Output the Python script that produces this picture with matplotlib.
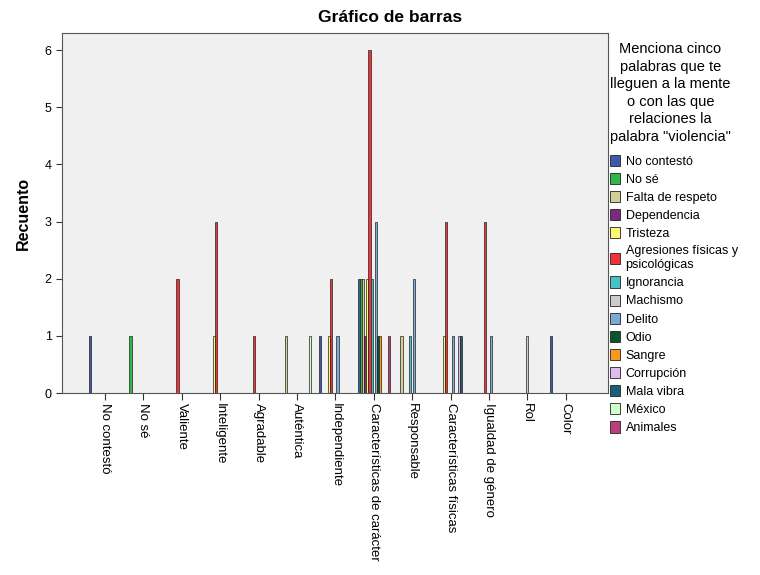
import numpy as np
import matplotlib
matplotlib.use('Agg')
import matplotlib.pyplot as plt
from matplotlib.patches import Patch

plt.rcParams['font.family'] = ['Liberation Sans', 'DejaVu Sans']

# categorias del eje X
categorias = ['No contestó', 'No sé', 'Valiente', 'Inteligente', 'Agradable', 'Auténtica',
              'Independiente', 'Características de carácter', 'Responsable',
              'Características físicas', 'Igualdad de género', 'Rol', 'Color']

# recuentos por serie (una lista por respuesta, en el orden de las categorias)
no_contesto   = [1, 0, 0, 0, 0, 0, 1, 2, 0, 0, 0, 0, 1]
no_se         = [0, 1, 0, 0, 0, 0, 0, 2, 0, 0, 0, 0, 0]
falta_respeto = [0, 0, 0, 0, 0, 1, 0, 2, 1, 0, 0, 0, 0]
dependencia   = [0, 0, 0, 0, 0, 0, 0, 1, 0, 0, 0, 0, 0]
tristeza      = [0, 0, 0, 1, 0, 0, 1, 2, 0, 1, 0, 0, 0]
agresiones    = [0, 0, 2, 3, 1, 0, 2, 6, 0, 3, 3, 0, 0]
ignorancia    = [0, 0, 0, 0, 0, 0, 0, 2, 1, 0, 0, 0, 0]
machismo      = [0, 0, 0, 0, 0, 0, 0, 0, 0, 0, 0, 1, 0]
delito        = [0, 0, 0, 0, 0, 0, 1, 3, 2, 1, 1, 0, 0]
odio          = [0, 0, 0, 0, 0, 0, 0, 1, 0, 0, 0, 0, 0]
sangre        = [0, 0, 0, 0, 0, 0, 0, 1, 0, 0, 0, 0, 0]
corrupcion    = [0, 0, 0, 0, 0, 0, 0, 0, 0, 1, 0, 0, 0]
mala_vibra    = [0, 0, 0, 0, 0, 0, 0, 0, 0, 1, 0, 0, 0]
mexico        = [0, 0, 0, 0, 0, 1, 0, 0, 0, 0, 0, 0, 0]
animales      = [0, 0, 0, 0, 0, 0, 0, 1, 0, 0, 0, 0, 0]

series = ['No contestó', 'No sé', 'Falta de respeto', 'Dependencia', 'Tristeza',
          'Agresiones físicas y\npsicológicas', 'Ignorancia', 'Machismo', 'Delito', 'Odio',
          'Sangre', 'Corrupción', 'Mala vibra', 'México', 'Animales']
valores = [no_contesto, no_se, falta_respeto, dependencia, tristeza, agresiones, ignorancia,
           machismo, delito, odio, sangre, corrupcion, mala_vibra, mexico, animales]
colores = ['#3E58AC', '#2EB848', '#D3CE97', '#7C287D', '#FBF873', '#EF3338', '#48C2C5',
           '#CCCCCC', '#7AAAD5', '#0A562C', '#F8981D', '#DDBAF1', '#1A5F76', '#CCFFCC', '#BB3F7F']

fig = plt.figure(figsize=(7.6, 5.75), dpi=100)
ax = fig.add_axes([62/760, 182/575, 546/760, 360/575])
ax.set_facecolor('#F0F0F0')

x = np.arange(len(categorias))
ancho = 0.056
n = len(series)
for k in range(n):
    v = np.array(valores[k])
    pos = x + (k - (n - 1) / 2) * ancho
    m = v > 0
    ax.bar(pos[m], v[m], width=ancho, color=colores[k], edgecolor='#222222', linewidth=0.5)

ax.set_xlim(-1.12, 13.1)
ax.set_ylim(0, 6.3)
ax.set_yticks(range(7))
ax.set_xticks(x)
ax.set_xticklabels(categorias, rotation=270, fontsize=9.5, va='top', ha='center')
ax.tick_params(axis='y', labelsize=9, length=4, color='#333333')
ax.tick_params(axis='x', length=5, color='#333333', pad=2)
for s in ax.spines.values():
    s.set_color('#555555')
    s.set_linewidth(0.8)
ax.set_ylabel('Recuento', fontsize=11.5, fontweight='bold', labelpad=10)

fig.text(390/760, 1 - 17/575, 'Gráfico de barras', ha='center', va='center',
         fontsize=12.5, fontweight='bold')

handles = [Patch(facecolor=c, edgecolor='#222222', linewidth=0.6) for c in colores]
leg = fig.legend(handles, series, loc='upper left', bbox_to_anchor=(610/760, 1 - 42/575),
                 frameon=False, fontsize=9, handlelength=0.8, handleheight=1.0,
                 handletextpad=0.45, labelspacing=0.42, borderpad=0, borderaxespad=0,
                 title='Menciona cinco\npalabras que te\nlleguen a la mente\no con las que\n'
                       'relaciones la\npalabra "violencia"',
                 title_fontsize=10.5)
leg._legend_box.align = 'left'
leg._legend_box.sep = 8
leg.get_title().set_ha('center')
leg.get_title().set_multialignment('center')
leg.get_title().set_linespacing(1.32)

fig.savefig('out.png', dpi=100)
